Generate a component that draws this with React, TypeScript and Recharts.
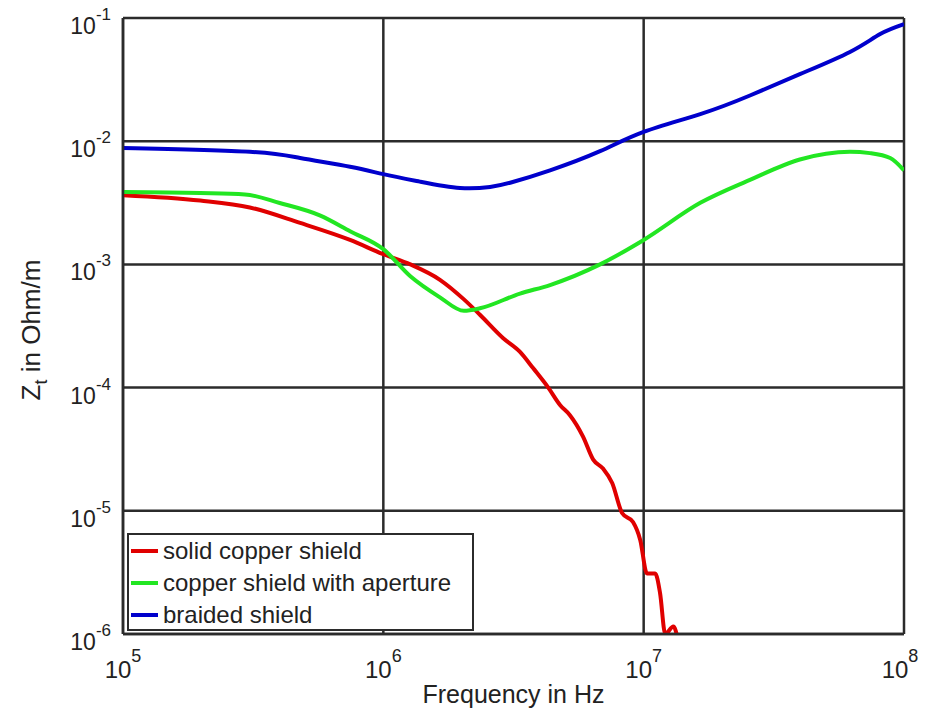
import React from "react";
import {
  LineChart,
  Line,
  XAxis,
  YAxis,
  CartesianGrid,
} from "recharts";

// (frequency in Hz, Zt in Ohm/m)
const SOLID_FREQ = [
  1e5, 1.98e5, 3.07e5, 4.79e5, 7.45e5, 1e6, 1.27e6, 1.65e6, 2.04e6, 2.35e6,
  2.88e6, 3.35e6, 3.76e6, 4.3e6, 4.78e6, 5.2e6, 5.85e6, 6.4e6, 6.98e6, 7.57e6,
  8.26e6, 9.1e6, 9.7e6, 1.03e7, 1.107e7, 1.156e7, 1.21e7, 1.3e7, 1.355e7,
];
const SOLID_Z = [
  3.65e-3, 3.3e-3, 2.9e-3, 2.17e-3, 1.58e-3, 1.21e-3, 1.0e-3, 7.5e-4, 5.2e-4,
  3.9e-4, 2.53e-4, 1.95e-4, 1.44e-4, 1.0e-4, 7.2e-5, 6.0e-5, 4.0e-5, 2.6e-5,
  2.2e-5, 1.68e-5, 9.6e-6, 8.1e-6, 5.8e-6, 3.1e-6, 3.1e-6, 2.15e-6, 1.0e-6,
  1.15e-6, 0.9e-6,
];

const APERTURE_FREQ = [
  1e5, 1.98e5, 2.94e5, 4.0e5, 5.7e5, 7.45e5, 1e6, 1.27e6, 1.65e6, 2.04e6,
  2.35e6, 3.35e6, 4.37e6, 6.8e6, 1e7, 1.65e7, 2.56e7, 3.98e7, 6.2e7, 7.4e7,
  8.85e7, 1e8,
];
const APERTURE_Z = [
  3.87e-3, 3.8e-3, 3.7e-3, 3.15e-3, 2.5e-3, 1.86e-3, 1.33e-3, 8.0e-4, 5.4e-4,
  4.2e-4, 4.4e-4, 5.8e-4, 6.8e-4, 1.0e-3, 1.58e-3, 3.16e-3, 4.85e-3, 7.1e-3,
  8.2e-3, 8.0e-3, 7.3e-3, 5.8e-3,
];

const BRAIDED_FREQ = [
  1e5, 3.07e5, 4.79e5, 7.45e5, 1e6, 1.38e6, 1.97e6, 2.57e6, 3.07e6, 4.37e6,
  6.8e6, 1e7, 1.65e7, 2.56e7, 3.98e7, 6.2e7, 8.1e7, 1e8,
];
const BRAIDED_Z = [
  8.8e-3, 8.2e-3, 7.3e-3, 6.2e-3, 5.4e-3, 4.7e-3, 4.17e-3, 4.25e-3, 4.6e-3,
  5.8e-3, 8.3e-3, 1.19e-2, 1.66e-2, 2.35e-2, 3.5e-2, 5.3e-2, 7.4e-2, 8.9e-2,
];

const X_TICKS = [1e5, 1e6, 1e7, 1e8];
const Y_TICKS = [1e-6, 1e-5, 1e-4, 1e-3, 1e-2, 1e-1];

const SERIES = [
  { name: "solid copper shield", color: "#e00000", freq: SOLID_FREQ, z: SOLID_Z, curve: "monotone" },
  { name: "copper shield with aperture", color: "#22e622", freq: APERTURE_FREQ, z: APERTURE_Z, curve: "monotone" },
  { name: "braided shield", color: "#0000cc", freq: BRAIDED_FREQ, z: BRAIDED_Z, curve: "natural" },
];

const FONT = "'Liberation Sans', Arial, Helvetica, sans-serif";
const GRID = "#2b2b2b";

const XTick = (props: any) => {
  const { x, y, payload } = props;
  const exp = Math.round(Math.log10(payload.value));
  return (
    <text x={x} y={y + 42} textAnchor="middle" fontSize={24} fill="#222" fontFamily={FONT}>
      <tspan>10</tspan>
      <tspan dy={-16} fontSize={18}>{exp}</tspan>
    </text>
  );
};

const YTick = (props: any) => {
  const { x, y, payload } = props;
  const exp = Math.round(Math.log10(payload.value));
  return (
    <text x={x - 10} y={y + 16} textAnchor="end" fontSize={23} fill="#222" fontFamily={FONT}>
      <tspan>10</tspan>
      <tspan dy={-14} fontSize={17}>{exp}</tspan>
    </text>
  );
};

const YLabel = () => (
  <text
    transform="translate(40, 330) rotate(-90)"
    textAnchor="middle"
    fontSize={26}
    fill="#222"
    fontFamily={FONT}
  >
    <tspan>Z</tspan>
    <tspan dy={7} fontSize={18}>t</tspan>
    <tspan dy={-7}> in Ohm/m</tspan>
  </text>
);

export default function App() {
  return (
    <div
      style={{
        position: "absolute",
        left: 0,
        top: 0,
        width: 936,
        height: 715,
        background: "#fff",
      }}
    >
      <LineChart
        width={936}
        height={715}
        margin={{ top: 18, right: 32, bottom: 0, left: 0 }}
      >
        <CartesianGrid stroke={GRID} strokeWidth={2.5} />
        <XAxis
          type="number"
          dataKey="f"
          scale="log"
          domain={[1e5, 1e8]}
          ticks={X_TICKS}
          allowDataOverflow
          height={81}
          tickLine={false}
          tickSize={0}
          axisLine={{ stroke: GRID, strokeWidth: 2.5 }}
          tick={<XTick />}
          label={{
            value: "Frequency in Hz",
            position: "insideBottom",
            offset: 12,
            fontSize: 25,
            fill: "#222",
            fontFamily: FONT,
          }}
        />
        <YAxis
          type="number"
          dataKey="z"
          scale="log"
          domain={[1e-6, 1e-1]}
          ticks={Y_TICKS}
          allowDataOverflow
          width={123}
          tickLine={false}
          tickSize={0}
          axisLine={{ stroke: GRID, strokeWidth: 2.5 }}
          tick={<YTick />}
          label={{ content: <YLabel /> }}
        />
        {SERIES.map((s) => (
          <Line
            key={s.name}
            name={s.name}
            data={s.freq.map((f, i) => ({ f, z: s.z[i] }))}
            dataKey="z"
            type={s.curve as any}
            stroke={s.color}
            strokeWidth={4}
            dot={false}
            isAnimationActive={false}
          />
        ))}
      </LineChart>
      <div
        style={{
          position: "absolute",
          left: 127,
          top: 533,
          width: 343,
          height: 94,
          border: `2px solid ${GRID}`,
          background: "#fff",
          fontFamily: FONT,
          fontSize: 24,
          color: "#222",
          boxSizing: "content-box",
        }}
      >
        {SERIES.map((s) => (
          <div
            key={s.name}
            style={{ display: "flex", alignItems: "center", height: 32 }}
          >
            <span
              style={{
                display: "inline-block",
                width: 27,
                height: 4,
                background: s.color,
                marginLeft: 2,
                marginRight: 5,
              }}
            />
            <span>{s.name}</span>
          </div>
        ))}
      </div>
    </div>
  );
}
